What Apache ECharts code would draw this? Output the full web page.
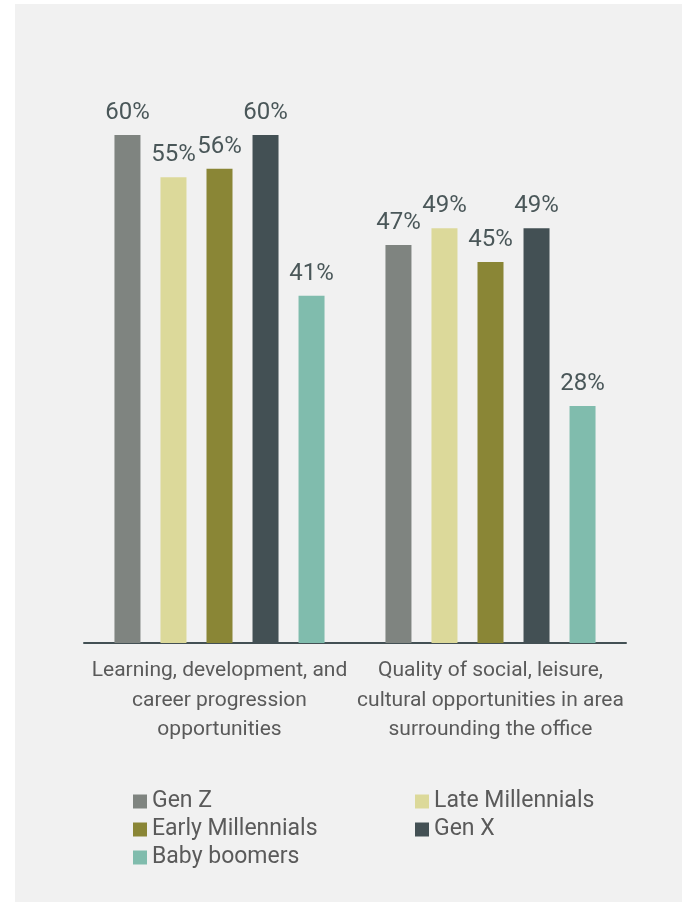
<!DOCTYPE html>
<html>
<head>
<meta charset="utf-8">
<script src="https://cdn.jsdelivr.net/npm/echarts@6/dist/echarts.min.js"></script>
<style>
  html, body { margin: 0; padding: 0; background: #ffffff; }
  #chart { width: 682px; height: 902px; }
</style>
</head>
<body>
<div id="chart"></div>
<script>
// Share of respondents by generation for two workplace factors
const categories = [
  'Learning, development, and\ncareer progression\nopportunities',
  'Quality of social, leisure,\ncultural opportunities in area\nsurrounding the office'
];
const seriesNames = ['Gen Z', 'Late Millennials', 'Early Millennials', 'Gen X', 'Baby boomers'];
const genZ = [60, 47];
const lateMillennials = [55, 49];
const earlyMillennials = [56, 45];
const genX = [60, 49];
const babyBoomers = [41, 28];
const colors = ['#7f8480', '#dcd99a', '#8a8636', '#435054', '#80bcad'];

const values = [genZ, lateMillennials, earlyMillennials, genX, babyBoomers];
const font = 'Roboto, "Liberation Sans", sans-serif';

const chart = echarts.init(document.getElementById('chart'), null, { renderer: 'canvas' });

const series = seriesNames.map((name, i) => ({
  name: name,
  type: 'bar',
  data: values[i],
  barWidth: 26,
  barGap: '77%',
  itemStyle: { color: colors[i] },
  label: {
    show: true,
    position: 'top',
    distance: 10,
    formatter: '{c}%',
    color: '#4a5759',
    fontFamily: font,
    fontSize: 24
  }
}));

const legendText = { color: '#5a5a5a', fontFamily: font, fontSize: 23, lineHeight: 22 };

chart.setOption({
  backgroundColor: '#ffffff',
  animation: false,
  graphic: [{
    type: 'rect',
    z: -10,
    shape: { x: 15, y: 4, width: 667, height: 898 },
    style: { fill: '#f1f1f1' }
  }],
  grid: { left: 84, right: 56, top: 135, bottom: 259, containLabel: false },
  xAxis: {
    type: 'category',
    data: categories,
    axisLine: { lineStyle: { color: '#435054', width: 2 } },
    axisTick: { show: false },
    axisLabel: {
      interval: 0,
      margin: 13,
      color: '#5a5a5a',
      fontFamily: font,
      fontSize: 21,
      lineHeight: 29.5,
      align: 'center'
    }
  },
  yAxis: {
    type: 'value',
    min: 0,
    max: 60,
    show: false,
    splitLine: { show: false }
  },
  legend: [{
    data: ['Gen Z', 'Early Millennials', 'Baby boomers'],
    orient: 'vertical',
    left: 133,
    top: 790,
    padding: 0,
    itemWidth: 14,
    itemHeight: 14,
    itemGap: 5,
    icon: 'rect',
    textStyle: legendText
  }, {
    data: ['Late Millennials', 'Gen X'],
    orient: 'vertical',
    left: 415,
    top: 790,
    padding: 0,
    itemWidth: 14,
    itemHeight: 14,
    itemGap: 5,
    icon: 'rect',
    textStyle: legendText
  }],
  series: series
});
</script>
</body>
</html>
